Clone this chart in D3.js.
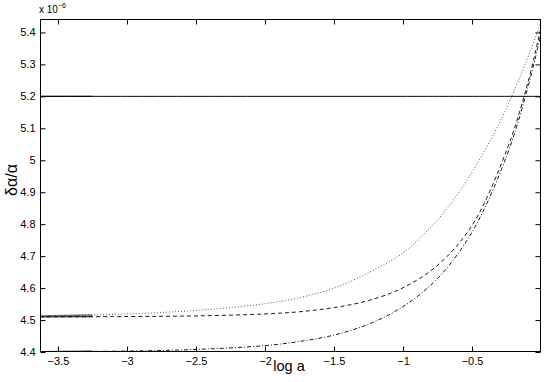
<!DOCTYPE html>
<html><head><meta charset="utf-8">
<script src="https://cdn.jsdelivr.net/npm/d3@7/dist/d3.min.js"></script>
<style>body{margin:0;background:#fff}svg{display:block}text{font-family:"Liberation Sans",Arial,sans-serif;fill:#000}</style>
</head><body><svg id="c" width="545" height="382"></svg>
<script>
// log a positions and δα/α values (×10^-6)
const xDomain = [-3.63, 0];
const yDomain = [4.4, 5.442];
const xTicks = [-3.5, -3, -2.5, -2, -1.5, -1, -0.5];
const yTicks = [4.4, 4.5, 4.6, 4.7, 4.8, 4.9, 5, 5.1, 5.2, 5.3, 5.4];
const noisyEnd = -3.25;

const solidX = [-3.63, -3.0, -2.0, -1.0, 0.0];
const solidY = [5.2, 5.2, 5.2, 5.2, 5.2];

const dottedX = [-3.63, -3.25, -3.0, -2.5, -2.0, -1.75, -1.5, -1.25, -1.0, -0.83, -0.72, -0.54, -0.345, -0.212, -0.079, 0.0];
const dottedY = [4.513, 4.516, 4.519, 4.530, 4.551, 4.570, 4.600, 4.648, 4.710, 4.777, 4.828, 4.935, 5.080, 5.200, 5.340, 5.432];

const dashedX = [-3.63, -3.0, -2.5, -2.0, -1.75, -1.5, -1.25, -1.0, -0.75, -0.5, -0.25, -0.1, 0.0];
const dashedY = [4.510, 4.511, 4.513, 4.519, 4.526, 4.539, 4.561, 4.601, 4.671, 4.796, 5.030, 5.235, 5.415];

const dashDotX = [-3.63, -3.0, -2.5, -2.0, -1.75, -1.5, -1.25, -1.0, -0.75, -0.5, -0.25, -0.1, 0.0];
const dashDotY = [4.401, 4.403, 4.408, 4.420, 4.433, 4.453, 4.487, 4.542, 4.630, 4.775, 5.012, 5.220, 5.395];

const svg = d3.select('#c');
const L = 40, R = 541, T = 19, B = 352;
const x = d3.scaleLinear().domain(xDomain).range([L, R]);
const y = d3.scaleLinear().domain(yDomain).range([B, T]);

svg.append('rect').attr('width', 545).attr('height', 382).attr('fill', '#fff');

svg.append('clipPath').attr('id', 'clp').append('rect')
  .attr('x', L).attr('y', T).attr('width', R - L).attr('height', B - T);

const g = svg.append('g').attr('clip-path', 'url(#clp)');
const line = d3.line().x(d => x(d[0])).y(d => y(d[1])).curve(d3.curveCatmullRom.alpha(0.5));
function series(xs, ys, dash, w, col) {
  const pts = xs.map((v, i) => [v, ys[i]]);
  g.append('path').datum(pts).attr('d', line).attr('fill', 'none')
    .attr('stroke', col).attr('stroke-width', w).attr('stroke-dasharray', dash);
  // dense noisy start
  const yEnd = d3.scaleLinear().domain(xs).range(ys)(noisyEnd);
  const noisy = [[xs[0], ys[0]], [noisyEnd, yEnd]];
  g.append('path').datum(noisy).attr('d', d3.line().x(d => x(d[0])).y(d => y(d[1]))).attr('fill', 'none')
    .attr('stroke', col).attr('stroke-width', 1.4).attr('opacity', 0.75);
}
series(solidX, solidY, null, 1, '#000');
series(dottedX, dottedY, '1,2', 0.9, '#444');
series(dashedX, dashedY, '4,3', 0.9, '#000');
series(dashDotX, dashDotY, '4,2,1,2', 0.9, '#000');

// box
svg.append('rect').attr('x', L + 0.5).attr('y', T + 0.5).attr('width', R - L - 1).attr('height', B - T - 1)
  .attr('fill', 'none').attr('stroke', '#000').attr('stroke-width', 1);

// axes with inward ticks
const fmtX = d => d3.format('')(d).replace('-', '\u2212');
svg.append('g').attr('transform', `translate(0,${B - 0.5})`)
  .call(d3.axisBottom(x).tickValues(xTicks).tickSizeInner(-5).tickSizeOuter(0).tickPadding(6).tickFormat(fmtX));
svg.append('g').attr('transform', `translate(0,${T + 0.5})`)
  .call(d3.axisTop(x).tickValues(xTicks).tickSizeInner(-5).tickSizeOuter(0).tickFormat(''));
svg.append('g').attr('transform', `translate(${L + 0.5},0)`)
  .call(d3.axisLeft(y).tickValues(yTicks).tickSizeInner(-5).tickSizeOuter(0).tickPadding(5).tickFormat(d => d3.format('')(d)));
svg.append('g').attr('transform', `translate(${R - 0.5},0)`)
  .call(d3.axisRight(y).tickValues(yTicks).tickSizeInner(-5).tickSizeOuter(0).tickFormat(''));
svg.selectAll('.domain').remove();
svg.selectAll('.tick line').attr('stroke', '#000');
svg.selectAll('.tick text').attr('font-size', 11).attr('font-family', '"Liberation Sans",Arial,sans-serif').attr('fill', '#000');

// exponent
const ex = svg.append('text').attr('x', 39).attr('y', 13).attr('font-size', 10);
ex.append('tspan').text('x 10');
ex.append('tspan').attr('dy', -5).attr('font-size', 7).text('\u22126');

// axis labels
svg.append('text').attr('x', 289).attr('y', 371).attr('text-anchor', 'middle').attr('font-size', 14.5).text('log a');
svg.append('text').attr('transform', 'translate(17,180) rotate(-90)').attr('text-anchor', 'middle')
  .attr('font-size', 16).text('δα/α');
</script></body></html>
